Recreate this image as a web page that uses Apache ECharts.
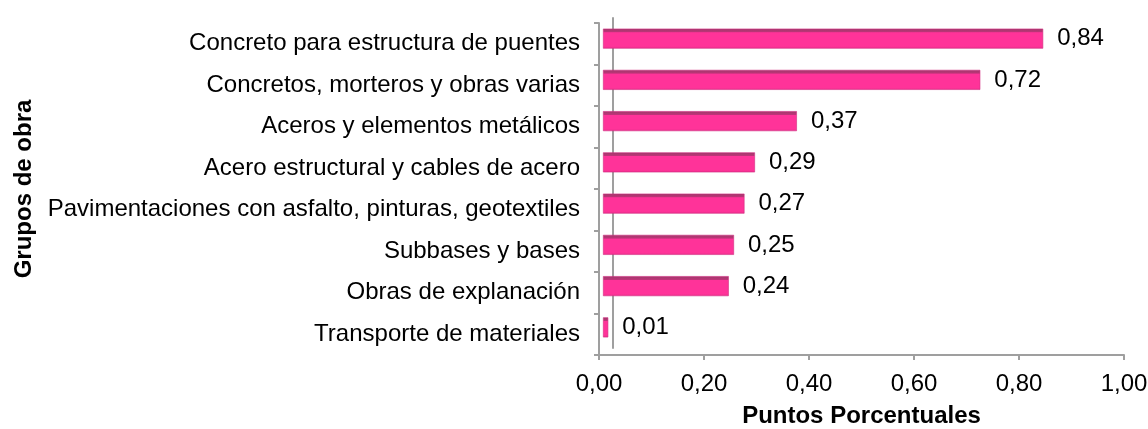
<!DOCTYPE html>
<html>
<head>
<meta charset="utf-8">
<script src="https://cdn.jsdelivr.net/npm/echarts@6/dist/echarts.min.js"></script>
<style>
  html, body { margin: 0; padding: 0; background: #fff; }
  #chart { width: 1148px; height: 429px; }
</style>
</head>
<body>
<div id="chart"></div>
<script>
// grupos de obra (de arriba hacia abajo)
const grupos = [
  'Concreto para estructura de puentes',
  'Concretos, morteros y obras varias',
  'Aceros y elementos metálicos',
  'Acero estructural y cables de acero',
  'Pavimentaciones con asfalto, pinturas, geotextiles',
  'Subbases y bases',
  'Obras de explanación',
  'Transporte de materiales'
]
// puntos porcentuales
const puntos = [0.84, 0.72, 0.37, 0.29, 0.27, 0.25, 0.24, 0.01]
// etiquetas del eje x
const etiquetasX = ['0,00', '0,20', '0,40', '0,60', '0,80', '1,00']

const fuente = 'Liberation Sans, Arial, sans-serif'
const tam = 24
const gris = '#9f9f9f'

const chart = echarts.init(document.getElementById('chart'))

const option = {
  backgroundColor: '#fff',
  animation: false,
  grid: [
    // marco frontal (ejes y etiquetas)
    { left: 599, right: 24, top: 23, bottom: 74, outerBoundsMode: 'none' },
    // plano de las barras (un poco desplazado por el efecto 3D)
    { left: 603, right: 21, top: 18, bottom: 81, outerBoundsMode: 'none' }
  ],
  xAxis: [
    {
      gridIndex: 0,
      type: 'value',
      min: 0,
      max: 1,
      interval: 0.2,
      name: 'Puntos Porcentuales',
      nameLocation: 'middle',
      nameGap: 49,
      nameTextStyle: { fontFamily: fuente, fontSize: tam, fontWeight: 'bold', color: '#000' },
      axisLine: { show: true, lineStyle: { color: gris, width: 2 } },
      axisTick: { show: true, length: 5, lineStyle: { color: gris, width: 2 } },
      splitLine: { show: false },
      axisLabel: {
        margin: 17,
        fontFamily: fuente,
        fontSize: tam,
        color: '#000',
        formatter: v => etiquetasX[Math.round(v / 0.2)]
      }
    },
    {
      gridIndex: 1,
      type: 'value',
      min: 0,
      max: 1,
      show: false
    }
  ],
  yAxis: [
    {
      gridIndex: 0,
      type: 'category',
      inverse: true,
      data: grupos,
      name: 'Grupos de obra',
      nameLocation: 'middle',
      nameGap: 563,
      nameRotate: 90,
      nameTextStyle: { fontFamily: fuente, fontSize: tam, fontWeight: 'bold', color: '#000' },
      axisLine: { show: true, lineStyle: { color: gris, width: 2 } },
      axisTick: { show: true, length: 5, lineStyle: { color: gris, width: 2 } },
      axisLabel: { margin: 19, fontFamily: fuente, fontSize: tam, color: '#000' }
    },
    {
      gridIndex: 1,
      type: 'category',
      inverse: true,
      data: grupos,
      offset: -10,
      axisLine: { show: true, lineStyle: { color: gris, width: 2 } },
      axisTick: { show: false },
      axisLabel: { show: false }
    }
  ],
  series: [
    {
      type: 'bar',
      xAxisIndex: 1,
      yAxisIndex: 1,
      data: puntos,
      barWidth: 20,
      itemStyle: {
        color: new echarts.graphic.LinearGradient(0, 0, 0, 1, [
          { offset: 0, color: '#9e3a6a' },
          { offset: 0.17, color: '#bd3478' },
          { offset: 0.2, color: '#ff3399' },
          { offset: 0.88, color: '#ff3399' },
          { offset: 1, color: '#ea2f8c' }
        ]),
        borderColor: '#d12a7f',
        borderWidth: 0.6
      },
      label: {
        show: true,
        position: 'right',
        distance: 14,
        fontFamily: fuente,
        fontSize: tam,
        color: '#000',
        formatter: p => p.value.toFixed(2).replace('.', ',')
      }
    }
  ]
}

chart.setOption(option)
</script>
</body>
</html>
